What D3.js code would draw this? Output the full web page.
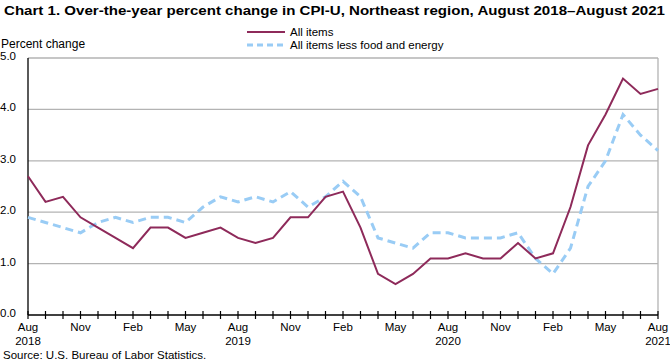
<!DOCTYPE html>
<html>
<head>
<meta charset="utf-8">
<script src="https://cdn.jsdelivr.net/npm/d3@7"></script>
<style>
  body { margin: 0; background: #fff; }
  text { font-family: "Liberation Sans", Arial, sans-serif; fill: #000; }
</style>
</head>
<body>
<svg id="chart" width="670" height="363"></svg>
<script>
// months Aug 2018 .. Aug 2021
var months = ["Aug","Sep","Oct","Nov","Dec","Jan","Feb","Mar","Apr","May","Jun","Jul",
  "Aug","Sep","Oct","Nov","Dec","Jan","Feb","Mar","Apr","May","Jun","Jul",
  "Aug","Sep","Oct","Nov","Dec","Jan","Feb","Mar","Apr","May","Jun","Jul","Aug"];

var allItems = [2.7, 2.2, 2.3, 1.9, 1.7, 1.5, 1.3, 1.7, 1.7, 1.5, 1.6, 1.7,
  1.5, 1.4, 1.5, 1.9, 1.9, 2.3, 2.4, 1.7, 0.8, 0.6, 0.8, 1.1,
  1.1, 1.2, 1.1, 1.1, 1.4, 1.1, 1.2, 2.1, 3.3, 3.9, 4.6, 4.3, 4.4];

var coreItems = [1.9, 1.8, 1.7, 1.6, 1.8, 1.9, 1.8, 1.9, 1.9, 1.8, 2.1, 2.3,
  2.2, 2.3, 2.2, 2.4, 2.1, 2.3, 2.6, 2.3, 1.5, 1.4, 1.3, 1.6,
  1.6, 1.5, 1.5, 1.5, 1.6, 1.1, 0.8, 1.3, 2.5, 3.0, 3.9, 3.5, 3.2];

var yTicks = [0, 1, 2, 3, 4, 5];
var yearLabels = {0: "2018", 12: "2019", 24: "2020", 36: "2021"};

var svg = d3.select("#chart");
var plot = { left: 28, right: 658, top: 58, bottom: 315 };

var x = d3.scaleLinear().domain([0, months.length - 1]).range([plot.left, plot.right]);
var y = d3.scaleLinear().domain([0, 5]).range([plot.bottom, plot.top]);

// Title
svg.append("text")
  .attr("x", 4).attr("y", 15)
  .attr("font-size", "13.5px").attr("font-weight", "bold")
  .attr("textLength", 661).attr("lengthAdjust", "spacingAndGlyphs")
  .text("Chart 1. Over-the-year percent change in CPI-U, Northeast region, August  2018\u2013August  2021");

svg.append("text")
  .attr("x", 1).attr("y", 48)
  .attr("font-size", "12px")
  .text("Percent change");

// Grid
svg.append("g").selectAll("line")
  .data(yTicks.slice(1))
  .enter().append("line")
  .attr("x1", plot.left).attr("x2", plot.right)
  .attr("y1", function(d) { return y(d); })
  .attr("y2", function(d) { return y(d); })
  .style("stroke", "#b3b3b3").style("stroke-width", 1.3);

svg.append("line")
  .attr("x1", plot.right).attr("x2", plot.right).attr("y1", plot.top).attr("y2", plot.bottom)
  .style("stroke", "#b3b3b3").style("stroke-width", 1.3);

// Y labels
svg.append("g").selectAll("text")
  .data(yTicks)
  .enter().append("text")
  .attr("x", 0)
  .attr("y", function(d) { return y(d) + 2; })
  .attr("font-size", "11.5px")
  .text(function(d) { return d.toFixed(1); });

// Axes
svg.append("line")
  .attr("x1", plot.left).attr("x2", plot.left).attr("y1", plot.top).attr("y2", plot.bottom)
  .style("stroke", "#000").style("stroke-width", 1.3);

svg.append("line")
  .attr("x1", plot.left).attr("x2", plot.right).attr("y1", plot.bottom).attr("y2", plot.bottom)
  .style("stroke", "#000").style("stroke-width", 1.3);

svg.append("g").selectAll("line")
  .data(months)
  .enter().append("line")
  .attr("x1", function(d, i) { return x(i); })
  .attr("x2", function(d, i) { return x(i); })
  .attr("y1", plot.bottom - 4).attr("y2", plot.bottom + 4)
  .style("stroke", "#000").style("stroke-width", 1.2);

// X labels every 3 months
var xl = svg.append("g");
months.forEach(function(m, i) {
  if (i % 3 !== 0) return;
  xl.append("text")
    .attr("x", x(i)).attr("y", 331)
    .attr("text-anchor", "middle").attr("font-size", "11.5px")
    .text(m);
  if (yearLabels[i]) {
    xl.append("text")
      .attr("x", x(i)).attr("y", 345)
      .attr("text-anchor", "middle").attr("font-size", "11.5px")
      .text(yearLabels[i]);
  }
});

// Lines
var line = d3.line()
  .x(function(d, i) { return x(i); })
  .y(function(d) { return y(d); });

svg.append("path")
  .datum(coreItems)
  .attr("d", line)
  .style("fill", "none")
  .style("stroke", "#99ccf5")
  .style("stroke-width", 3)
  .style("stroke-dasharray", "8,5");

svg.append("path")
  .datum(allItems)
  .attr("d", line)
  .style("fill", "none")
  .style("stroke", "#8e2a5a")
  .style("stroke-width", 2);

// Legend
var lg = svg.append("g");
lg.append("line")
  .attr("x1", 247).attr("x2", 285).attr("y1", 32).attr("y2", 32)
  .style("stroke", "#8e2a5a").style("stroke-width", 2);
lg.append("text").attr("x", 290).attr("y", 36).attr("font-size", "11.5px").text("All items");
lg.append("line")
  .attr("x1", 247).attr("x2", 285).attr("y1", 45).attr("y2", 45)
  .style("stroke", "#99ccf5").style("stroke-width", 3).style("stroke-dasharray", "6,4");
lg.append("text").attr("x", 290).attr("y", 49).attr("font-size", "11.5px").text("All items less food and energy");

// Source
svg.append("text")
  .attr("x", 3).attr("y", 359)
  .attr("font-size", "11.5px")
  .text("Source: U.S. Bureau of Labor Statistics.");
</script>
</body>
</html>
